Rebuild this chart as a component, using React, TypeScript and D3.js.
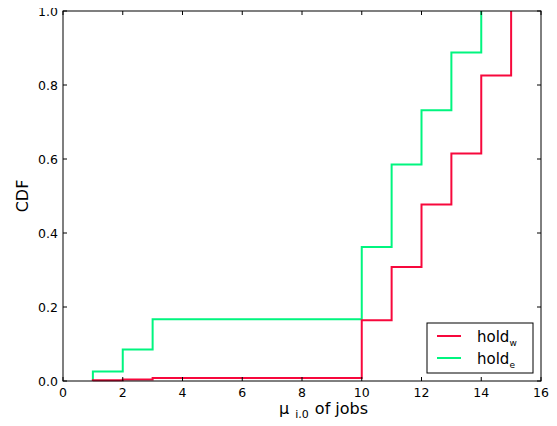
import { useEffect, useRef } from "react";
import * as d3 from "d3";

// number of jobs (x) and cumulative fraction for each policy
const jobs = [1, 2, 3, 10, 11, 12, 13, 14, 15];
const holdW = [0.002, 0.004, 0.008, 0.164, 0.308, 0.477, 0.615, 0.826, 1.0];
const jobsE = [1, 2, 3, 10, 11, 12, 13, 14];
const holdE = [0.026, 0.085, 0.167, 0.362, 0.585, 0.732, 0.888, 1.0];
const xTicks = [0, 2, 4, 6, 8, 10, 12, 14, 16];
const yTicks = [0.0, 0.2, 0.4, 0.6, 0.8, 1.0];

const App = () => {
  const ref = useRef<SVGSVGElement>(null);

  useEffect(() => {
    const svg = d3.select(ref.current);
    svg.selectAll("*").remove();

    const W = 557,
      H = 426,
      left = 63,
      right = 541,
      top = 11,
      bottom = 381;
    const font = "DejaVu Sans, sans-serif";

    const x = d3.scaleLinear().domain([0, 16]).range([left, right]);
    const y = d3.scaleLinear().domain([0, 1]).range([bottom, top]);

    svg.attr("width", W).attr("height", H);
    svg.append("rect").attr("width", W).attr("height", H).attr("fill", "#fff");

    const line = d3
      .line<[number, number]>()
      .x((d) => x(d[0]))
      .y((d) => y(d[1]))
      .curve(d3.curveStepAfter);

    const series = [
      { xs: jobsE, ys: holdE, color: "#00f57f" },
      { xs: jobs, ys: holdW, color: "#f7083c" },
    ];
    series.forEach((s) => {
      const pts: [number, number][] = [[s.xs[0], 0]];
      s.xs.forEach((v, i) => pts.push([v, s.ys[i]]));
      svg
        .append("path")
        .attr("d", line(pts) as string)
        .attr("fill", "none")
        .attr("stroke", s.color)
        .attr("stroke-width", 2);
    });

    // frame
    svg
      .append("rect")
      .attr("x", left)
      .attr("y", top)
      .attr("width", right - left)
      .attr("height", bottom - top)
      .attr("fill", "none")
      .attr("stroke", "#000")
      .attr("stroke-width", 1);

    // inward ticks on all sides
    const tk = svg.append("g").attr("stroke", "#000").attr("stroke-width", 1);
    xTicks.forEach((t) => {
      tk.append("line").attr("x1", x(t)).attr("x2", x(t)).attr("y1", bottom).attr("y2", bottom - 4);
      tk.append("line").attr("x1", x(t)).attr("x2", x(t)).attr("y1", top).attr("y2", top + 4);
      svg
        .append("text")
        .attr("x", x(t))
        .attr("y", bottom + 16)
        .attr("text-anchor", "middle")
        .attr("font-family", font)
        .attr("font-size", 12.5)
        .text(t);
    });
    yTicks.forEach((t) => {
      tk.append("line").attr("x1", left).attr("x2", left + 4).attr("y1", y(t)).attr("y2", y(t));
      tk.append("line").attr("x1", right).attr("x2", right - 4).attr("y1", y(t)).attr("y2", y(t));
      svg
        .append("text")
        .attr("x", left - 5)
        .attr("y", y(t) + 4.5)
        .attr("text-anchor", "end")
        .attr("font-family", font)
        .attr("font-size", 12.5)
        .text(t.toFixed(1));
    });

    // axis labels
    svg
      .append("text")
      .attr("transform", `translate(28,${(top + bottom) / 2}) rotate(-90)`)
      .attr("text-anchor", "middle")
      .attr("font-family", font)
      .attr("font-size", 16)
      .text("CDF");

    const xl = svg
      .append("text")
      .attr("x", 279)
      .attr("y", 414)
      .attr("font-family", font)
      .attr("font-size", 16);
    xl.append("tspan").text("μ");
    xl.append("tspan").attr("dx", 6).attr("dy", 4).attr("font-size", 11).text("j,0");
    xl.append("tspan").attr("dx", 1).attr("dy", -4).text(" of jobs");

    // legend
    const lg = svg.append("g");
    lg.append("rect")
      .attr("x", 427)
      .attr("y", 323)
      .attr("width", 106)
      .attr("height", 50)
      .attr("fill", "#fff")
      .attr("stroke", "#000")
      .attr("stroke-width", 1);
    [
      { label: "w", color: "#f7083c" },
      { label: "e", color: "#00f57f" },
    ].forEach((d, i) => {
      const yy = 336 + i * 22;
      lg.append("line")
        .attr("x1", 437)
        .attr("x2", 461)
        .attr("y1", yy)
        .attr("y2", yy)
        .attr("stroke", d.color)
        .attr("stroke-width", 2);
      const t = lg
        .append("text")
        .attr("x", 477)
        .attr("y", yy + 6)
        .attr("font-family", font)
        .attr("font-size", 15);
      t.append("tspan").text("hold");
      t.append("tspan").attr("dy", 4).attr("font-size", 9).text(d.label);
    });
  }, []);

  return <svg ref={ref} style={{ display: "block", margin: "-8px", overflow: "visible" }} />;
};

export default App;
